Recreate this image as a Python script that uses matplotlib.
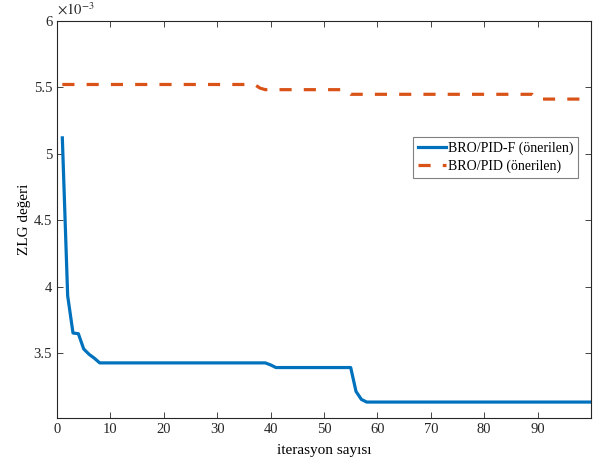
import matplotlib.pyplot as plt

# values in units of 1e-3
pidf_iter = [1, 2, 3, 4, 5, 6, 7, 8, 39, 40, 41, 55, 56, 57, 58, 100]
pidf_zlg = [5.12, 3.93, 3.65, 3.645, 3.53, 3.49, 3.46, 3.425, 3.425, 3.41, 3.39, 3.39,
            3.21, 3.15, 3.13, 3.13]

pid_iter = [1, 37, 38, 39, 54, 55, 89, 90, 100]
pid_zlg = [5.522, 5.522, 5.495, 5.483, 5.483, 5.448, 5.448, 5.412, 5.412]

x_ticks = [0, 10, 20, 30, 40, 50, 60, 70, 80, 90]
y_ticks = [3.5, 4.0, 4.5, 5.0, 5.5, 6.0]
y_tick_labels = ["3.5", "4", "4.5", "5", "5.5", "6"]

labels = ["BRO/PID-F (önerilen)", "BRO/PID (önerilen)"]

plt.rcParams["font.family"] = ["Liberation Serif", "DejaVu Serif"]
plt.rcParams["mathtext.fontset"] = "stix"

fig = plt.figure(figsize=(5.93, 4.63), dpi=100)
ax = fig.add_axes([0.0961, 0.0972, 0.9005, 0.8574])

ax.plot(pidf_iter, pidf_zlg, color="#0072BD", lw=2.3, label=labels[0])
ax.plot(pid_iter, pid_zlg, color="#D95319", lw=2.3, dashes=(3.8, 3.8), label=labels[1])

ax.set_xlim(0, 100)
ax.set_ylim(3.01, 6.0)
ax.set_xticks(x_ticks)
ax.set_yticks(y_ticks)
ax.set_yticklabels(y_tick_labels)

txt = "#262626"
ax.tick_params(direction="in", length=4, width=0.6, colors="#262626",
               labelcolor=txt, labelsize=10.5, top=True, right=True)
for s in ax.spines.values():
    s.set_color("#262626")
    s.set_linewidth(0.8)

ax.set_xlabel("iterasyon sayısı", fontsize=11, color="black", labelpad=6)
ax.set_ylabel("ZLG değeri", fontsize=11, color="black", labelpad=2)
ax.text(0.0, 1.008, r"$\times10^{-3}$", transform=ax.transAxes, fontsize=10.5,
        color=txt, ha="left", va="bottom")

leg = ax.legend(loc="upper right", bbox_to_anchor=(0.976, 0.708), borderaxespad=0,
                fancybox=False, fontsize=10, handlelength=2.0, handletextpad=0.15,
                borderpad=0.35, labelspacing=0.3, framealpha=1)
leg.get_frame().set_edgecolor("#808080")
leg.get_frame().set_linewidth(0.8)

fig.savefig("out.png", dpi=100)
